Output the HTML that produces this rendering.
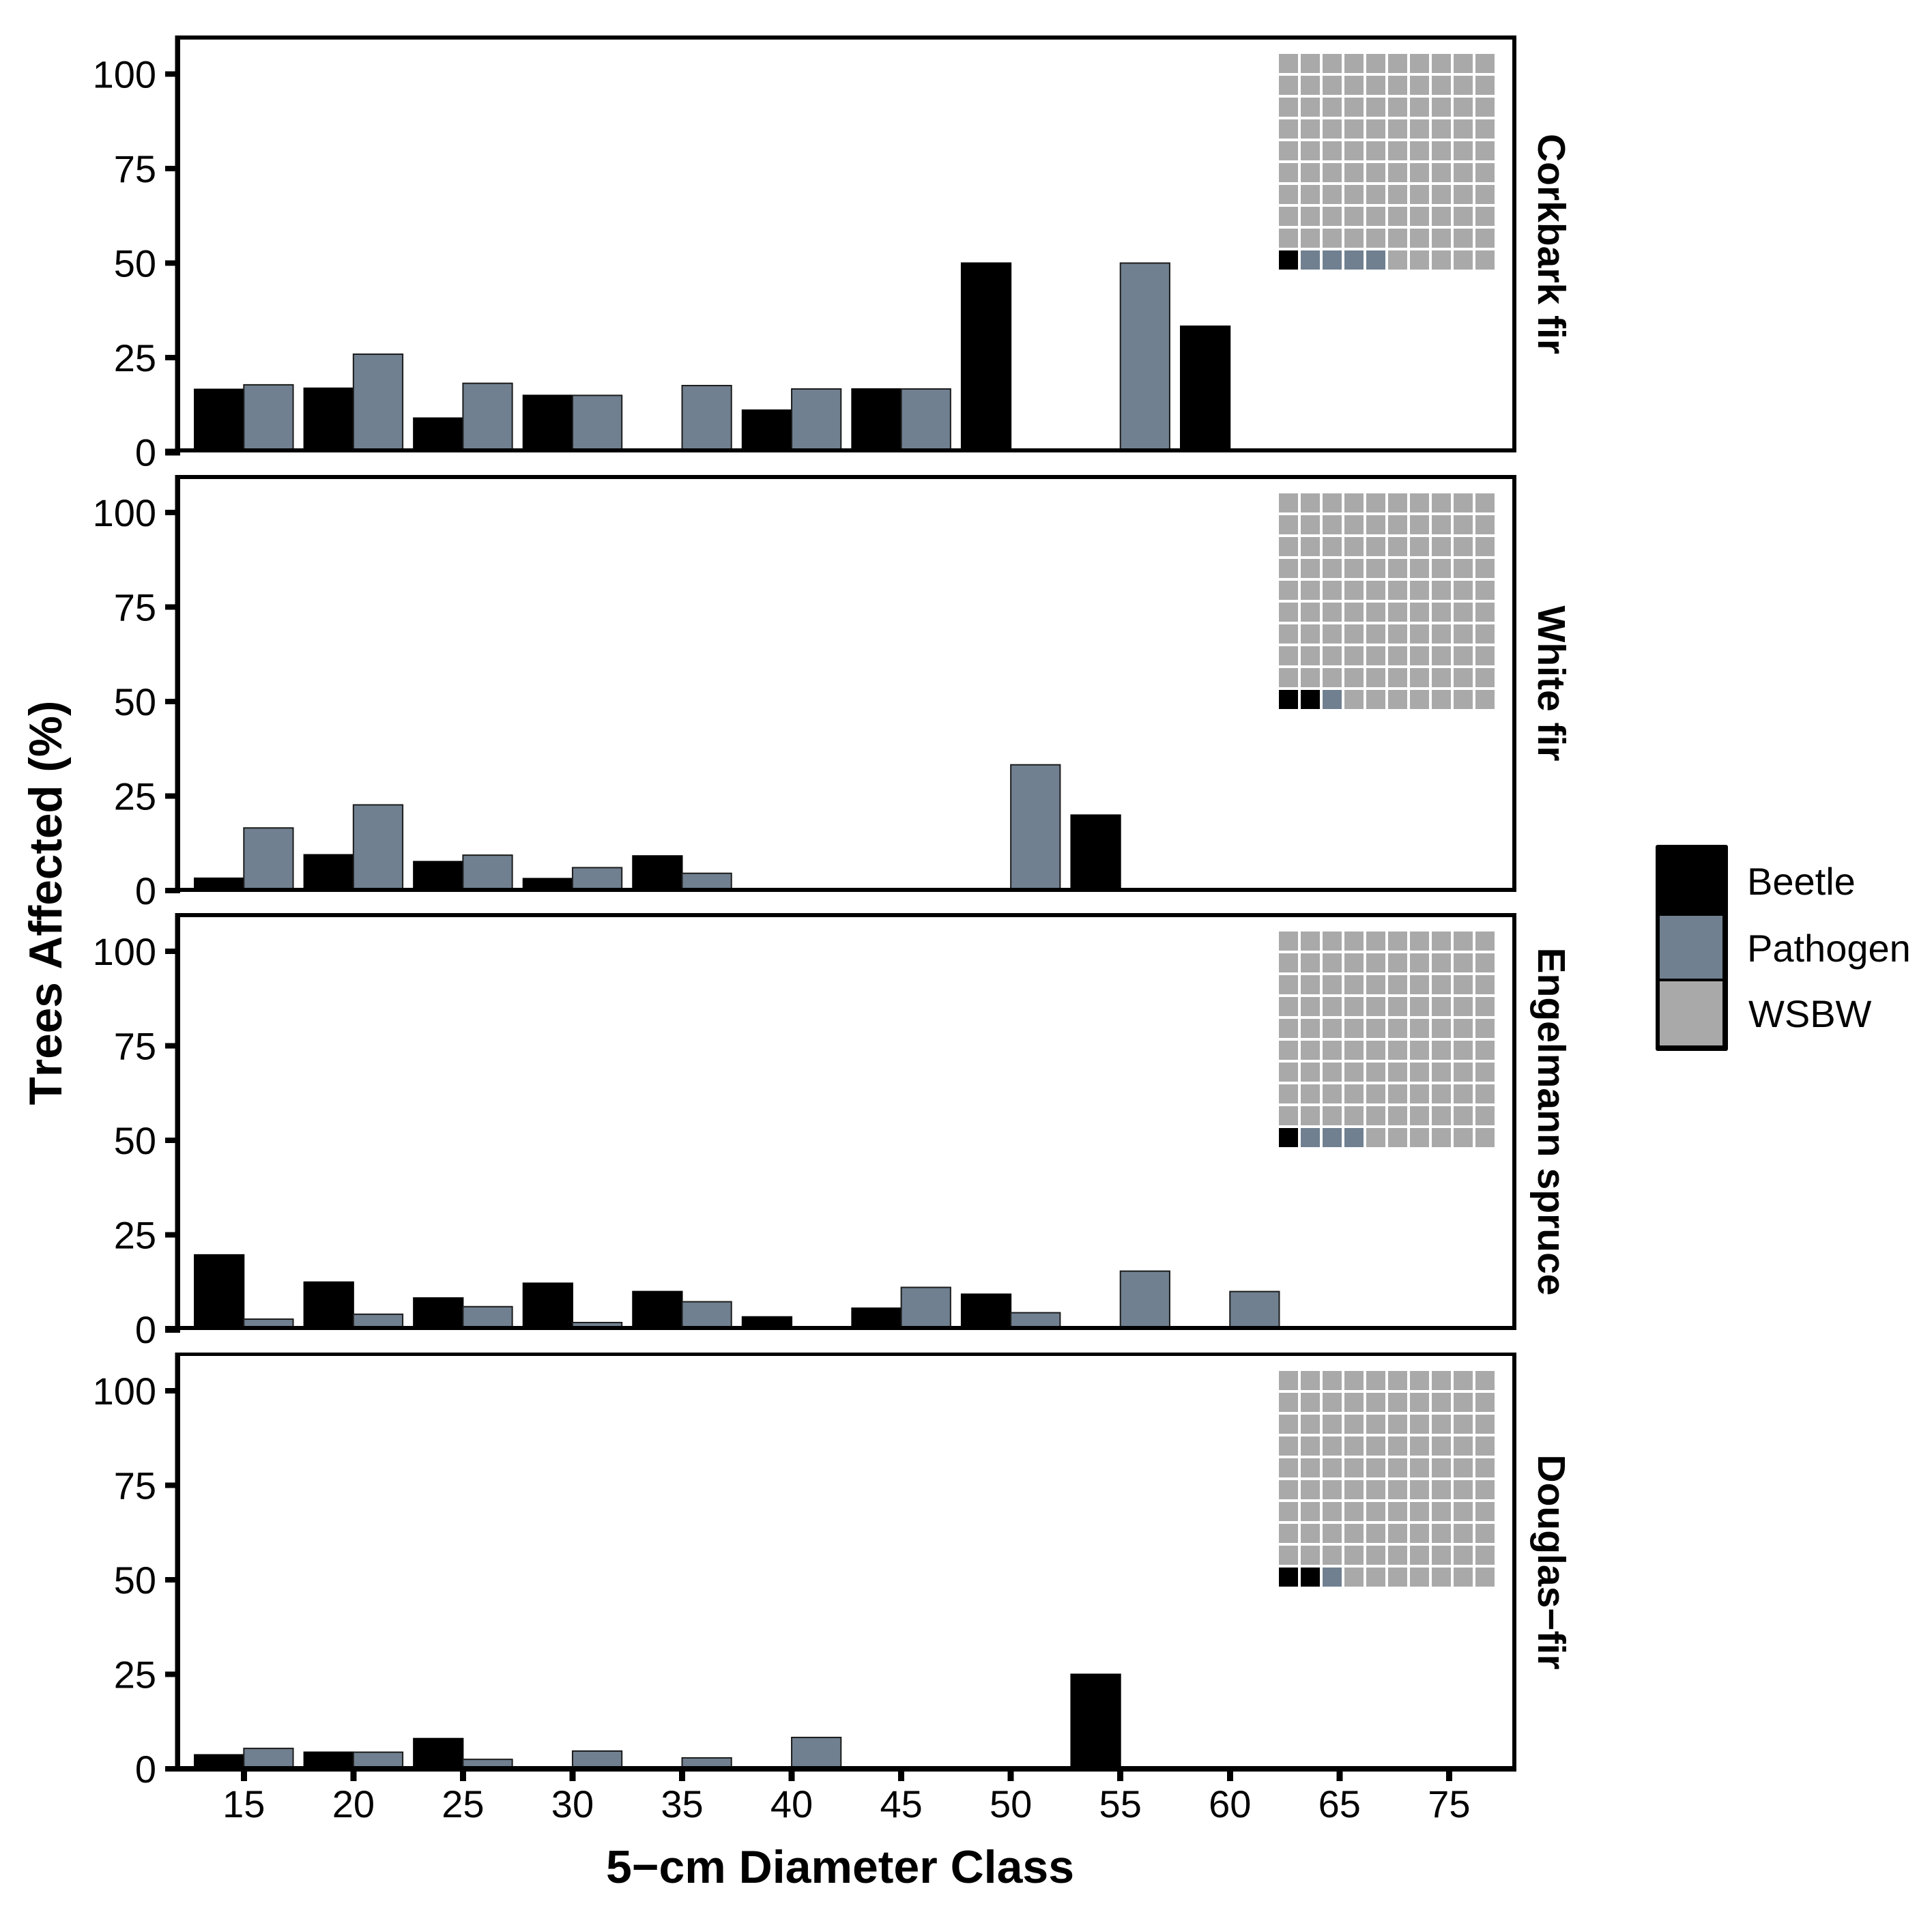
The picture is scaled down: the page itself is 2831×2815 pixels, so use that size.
<!DOCTYPE html>
<html lang="en">
<head>
<meta charset="utf-8">
<title>Trees Affected by 5-cm Diameter Class</title>
<style>
html,body{margin:0;padding:0;background:#fff;}
svg{display:block;}
text{font-family:"Liberation Sans",Arial,sans-serif;fill:#000;font-kerning:none;}
.tick{font-size:56px;}
.strip{font-size:57px;font-weight:bold;}
.title{font-size:68px;font-weight:bold;}
.y-title{font-size:67.5px;font-weight:bold;}
.legend-label{font-size:56px;}
</style>
</head>
<body>
<svg id="chart" xmlns="http://www.w3.org/2000/svg" width="2831" height="2815" viewBox="0 0 2831 2815">
  <rect x="0" y="0" width="2831" height="2815" fill="#ffffff"/>
  <g id="panels"></g>
  <g id="x-axis"></g>
  <text class="title" x="1231" y="2759" text-anchor="middle">5−cm Diameter Class</text>
  <text class="y-title" transform="translate(90,1323) rotate(-90)" text-anchor="middle">Trees Affected (%)</text>
  <g>
    <rect x="2426" y="1238" width="106" height="302" rx="3" fill="#000000"/>
    <rect x="2432" y="1342" width="92" height="92" fill="#708090"/>
    <rect x="2432" y="1438" width="92" height="94" fill="#a9a9a9"/>
    <text class="legend-label" x="2560" y="1311">Beetle</text>
    <text class="legend-label" x="2560" y="1409">Pathogen</text>
    <text class="legend-label" x="2562" y="1505">WSBW</text>
  </g>
</svg>
<script>
// ---- Data ----
const categories = [15, 20, 25, 30, 35, 40, 45, 50, 55, 60, 65, 75];
const yTickLabels = [0, 25, 50, 75, 100];
const species = ["Corkbark fir", "White fir", "Engelmann spruce", "Douglas−fir"];

const beetleCorkbark = [16.6, 16.9, 9, 15, 0, 11.1, 16.7, 50, 0, 33.3, 0, 0];
const pathogenCorkbark = [17.8, 25.9, 18.2, 15, 17.6, 16.7, 16.7, 0, 50, 0, 0, 0];
const beetleWhite = [3.3, 9.5, 7.7, 3.2, 9.2, 0, 0, 0, 20, 0, 0, 0];
const pathogenWhite = [16.6, 22.7, 9.4, 6.1, 4.6, 0, 0, 33.3, 0, 0, 0, 0];
const beetleEngelmann = [19.7, 12.5, 8.3, 12.2, 10, 3.3, 5.6, 9.3, 0, 0, 0, 0];
const pathogenEngelmann = [2.7, 4, 6, 1.8, 7.3, 0, 11.1, 4.4, 15.4, 10, 0, 0];
const beetleDouglas = [3.7, 4.4, 8, 0, 0, 0, 0, 0, 25, 0, 0, 0];
const pathogenDouglas = [5.4, 4.4, 2.5, 4.7, 2.9, 8.3, 0, 0, 0, 0, 0, 0];

const waffleBeetle = [1, 2, 1, 2];
const wafflePathogen = [4, 1, 3, 1];

const beetleSeries = [beetleCorkbark, beetleWhite, beetleEngelmann, beetleDouglas];
const pathogenSeries = [pathogenCorkbark, pathogenWhite, pathogenEngelmann, pathogenDouglas];

// ---- Layout and axis functions ----
const NS = "http://www.w3.org/2000/svg";
const panelsGroup = document.getElementById("panels");
const xAxisGroup = document.getElementById("x-axis");
const UNIT_Y = 5.54;
const STEP_X = 160.55;
const frameTop = [52, 696, 1338, 1982];
const frameBottom = [663, 1307, 1949, 2596];
const zeroLine = [662.5, 1305.2, 1948, 2592];
const BLACK = "#000000";
const SLATE = "#708090";
const GREY = "#a9a9a9";

function xScale(i) { return 357.3 + STEP_X * i; }
function yScale(panel, v) { return zeroLine[panel] - v * UNIT_Y; }
function slug(s) { return s.toLowerCase().replace(/[^a-z]+/g, "-"); }

function rect(parent, x, y, w, h, fill) {
  const r = document.createElementNS(NS, "rect");
  r.setAttribute("x", x);
  r.setAttribute("y", y);
  r.setAttribute("width", w);
  r.setAttribute("height", h);
  r.setAttribute("fill", fill);
  parent.appendChild(r);
  return r;
}

function label(parent, cls, x, y, anchor, content) {
  const t = document.createElementNS(NS, "text");
  t.setAttribute("class", cls);
  t.setAttribute("x", x);
  t.setAttribute("y", y);
  t.setAttribute("text-anchor", anchor);
  t.textContent = content;
  parent.appendChild(t);
  return t;
}

function drawBar(g, panel, catIndex, value, isPathogen) {
  if (value <= 0) return;
  const w = STEP_X * 0.45;
  const left = isPathogen ? xScale(catIndex) : xScale(catIndex) - w;
  const top = yScale(panel, value);
  const bar = rect(g, left, top, w, zeroLine[panel] - 3 - top, isPathogen ? SLATE : BLACK);
  bar.setAttribute("stroke", isPathogen ? "#1c1c1c" : BLACK);
  bar.setAttribute("stroke-width", "2");
  
  
}

function drawWaffle(g, panel) {
  const waffle = document.createElementNS(NS, "g");
  
  
  g.appendChild(waffle);
  const lastRowY = frameTop[panel] + 315;
  for (let n = 0; n < 100; n++) {
    const col = n % 10;
    const row = Math.floor(n / 10);
    let fill = GREY;
    if (n < waffleBeetle[panel]) fill = BLACK;
    else if (n < waffleBeetle[panel] + wafflePathogen[panel]) fill = SLATE;
    const cell = rect(waffle, 1874 + col * 32, lastRowY - row * 32, 28, 28, fill);
    cell.setAttribute("shape-rendering", "crispEdges");
    
    
  }
}

function drawFrame(g, panel) {
  const t = frameTop[panel];
  const b = frameBottom[panel];
  const thick = panel === 3 ? 8 : 6;
  const topThick = panel === 3 ? 5 : 6;
  const parts = [
    [256.5, t, 7.5, b - t],
    [2216, t, 6, b - t],
    [256.5, t, 1965.5, topThick],
    [256.5, b - thick, 1965.5, thick]
  ];
  parts.forEach(function (p) {
    const line = rect(g, p[0], p[1], p[2], p[3], BLACK);
    line.setAttribute("shape-rendering", "crispEdges");
    
    
  });
}

function drawYAxis(g, panel) {
  yTickLabels.forEach(function (v) {
    const y = yScale(panel, v);
    const h = (v === 0 && (panel === 0 || panel === 2)) ? 10 : 8;
    const right = v === 0 ? 264 : 257;
    const tick = rect(g, 242, y - h / 2, right - 242, h, BLACK);
    tick.setAttribute("shape-rendering", "crispEdges");
    
    
    const txt = label(g, "tick", 229, y + 20, "end", String(v));
    
    
  });
}

species.forEach(function (name, p) {
  const g = document.createElementNS(NS, "g");
  
  
  panelsGroup.appendChild(g);

  categories.forEach(function (c, i) {
    drawBar(g, p, i, beetleSeries[p][i], false);
    drawBar(g, p, i, pathogenSeries[p][i], true);
  });
  drawWaffle(g, p);
  drawFrame(g, p);
  drawYAxis(g, p);

  const midY = (frameTop[p] + frameBottom[p]) / 2;
  const strip = label(g, "strip", 0, 0, "middle", name);
  strip.setAttribute("x", 0);
  strip.setAttribute("transform", "translate(2254," + midY + ") rotate(90)");
  
  
});

categories.forEach(function (c, i) {
  const x = xScale(i);
  const tick = rect(xAxisGroup, x - 4.5, 2595, 9, 15, BLACK);
  tick.setAttribute("shape-rendering", "crispEdges");
  
  
  const txt = label(xAxisGroup, "tick", x, 2663, "middle", String(c));
  
  
});
</script>
</body>
</html>
